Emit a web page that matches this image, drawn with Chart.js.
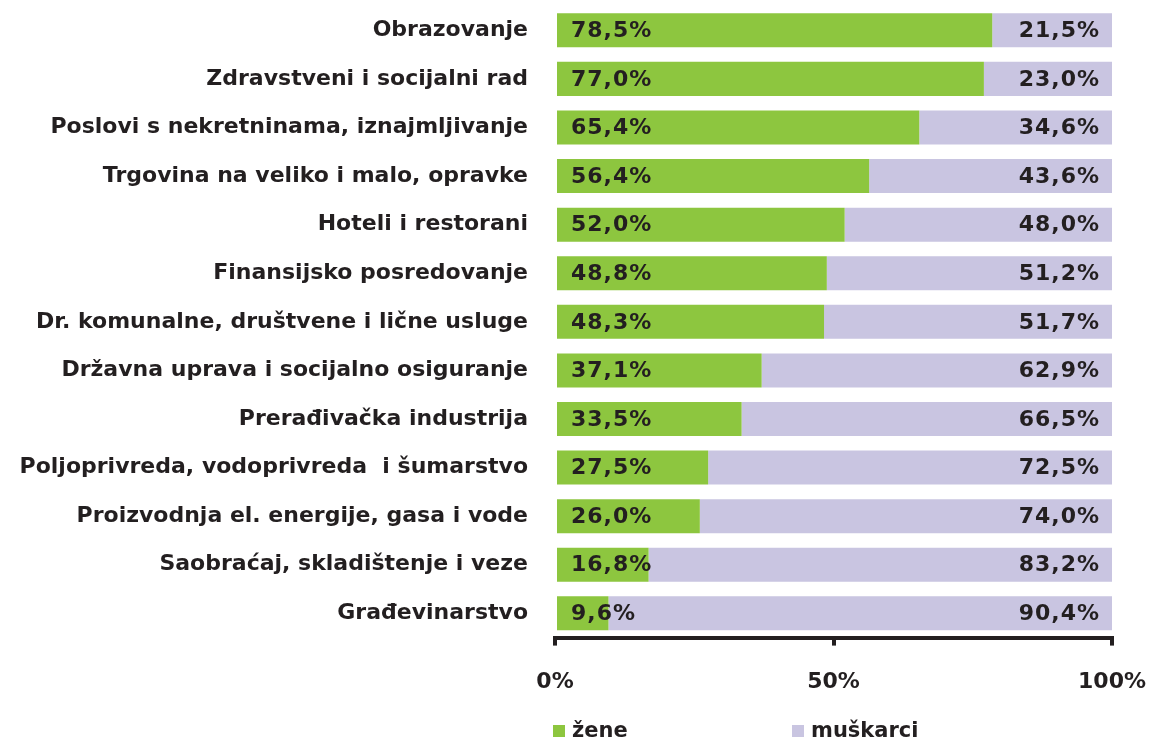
<!DOCTYPE html>
<html><head><meta charset="utf-8">
<script src="https://cdn.jsdelivr.net/npm/chart.js@4/dist/chart.umd.min.js"></script>
<style>html,body{margin:0;padding:0;background:#fff;}canvas{display:block;}</style>
</head><body>
<canvas id="c" width="1156" height="741"></canvas>
<script>
const categories = ["Obrazovanje","Zdravstveni i socijalni rad","Poslovi s nekretninama, iznajmljivanje","Trgovina na veliko i malo, opravke","Hoteli i restorani","Finansijsko posredovanje","Dr. komunalne, društvene i lične usluge","Državna uprava i socijalno osiguranje","Prerađivačka industrija","Poljoprivreda, vodoprivreda  i šumarstvo","Proizvodnja el. energije, gasa i vode","Saobraćaj, skladištenje i veze","Građevinarstvo"];
const zene = [78.5,77.0,65.4,56.4,52.0,48.8,48.3,37.1,33.5,27.5,26.0,16.8,9.6];
const muskarci = [21.5,23.0,34.6,43.6,48.0,51.2,51.7,62.9,66.5,72.5,74.0,83.2,90.4];
const seriesNames = ["žene","muškarci"];
const xTicks = [0,50,100];

const FONT = "'DejaVu Sans', Verdana, sans-serif";
const TXT = '#231f20';
const GREEN = '#8dc63f';
const LAV = '#c9c5e1';
const fmt = v => v.toFixed(1).replace('.', ',') + '%';

const valueLabels = {
  id: 'valueLabels',
  afterDatasetsDraw(chart) {
    const ctx = chart.ctx;
    ctx.save();
    ctx.font = 'bold 22px ' + FONT;
    if ('letterSpacing' in ctx) ctx.letterSpacing = '1px';
    ctx.fillStyle = TXT;
    ctx.textBaseline = 'middle';
    chart.getDatasetMeta(0).data.forEach((bar, i) => {
      ctx.textAlign = 'left';
      ctx.fillText(fmt(zene[i]), bar.base + 14, bar.y + 1);
    });
    chart.getDatasetMeta(1).data.forEach((bar, i) => {
      ctx.textAlign = 'right';
      ctx.fillText(fmt(muskarci[i]), bar.x - 12, bar.y + 1);
    });
    ctx.restore();
  }
};

const customLegend = {
  id: 'customLegend',
  afterDraw(chart) {
    const ctx = chart.ctx;
    const left = chart.chartArea.left;
    const y = 731;
    const items = [[seriesNames[0], GREEN, left - 2], [seriesNames[1], LAV, left + 237]];
    ctx.save();
    ctx.font = 'bold 21px ' + FONT;
    ctx.textBaseline = 'middle';
    ctx.textAlign = 'left';
    items.forEach(([t, c, x]) => {
      ctx.fillStyle = c;
      ctx.fillRect(x, y - 6, 12, 12);
      ctx.fillStyle = TXT;
      ctx.fillText(t, x + 19, y + 1);
    });
    ctx.restore();
  }
};

new Chart(document.getElementById('c'), {
  type: 'bar',
  data: {
    labels: categories,
    datasets: [
      { label: seriesNames[0], data: zene, backgroundColor: GREEN, borderWidth: 0, barPercentage: 0.7, categoryPercentage: 1 },
      { label: seriesNames[1], data: muskarci, backgroundColor: LAV, borderWidth: 0, barPercentage: 0.7, categoryPercentage: 1 }
    ]
  },
  options: {
    indexAxis: 'y',
    responsive: false,
    animation: false,
    layout: { padding: { top: 6, right: 44, bottom: 23, left: 0 } },
    plugins: { legend: { display: false }, tooltip: { enabled: false } },
    scales: {
      x: {
        stacked: true, min: 0, max: 100,
        afterBuildTicks: s => { s.ticks = xTicks.map(v => ({ value: v })); },
        afterFit: s => { s.paddingLeft = 0; s.paddingRight = 0; },
        grid: { drawOnChartArea: false, drawTicks: true, tickLength: 8, lineWidth: 4, color: TXT },
        border: { display: true, width: 4, color: TXT },
        ticks: { callback: v => v + '%', font: { family: FONT, size: 22, weight: 'bold' }, color: TXT, padding: 23, maxRotation: 0 }
      },
      y: {
        stacked: true,
        afterFit: s => { s.width = 555; s.paddingTop = 0; s.paddingBottom = 0; },
        grid: { display: false, drawTicks: false },
        border: { display: false },
        ticks: { font: { family: FONT, size: 22, weight: 'bold' }, color: TXT, padding: 27 }
      }
    }
  },
  plugins: [valueLabels, customLegend]
});
</script>
</body></html>
